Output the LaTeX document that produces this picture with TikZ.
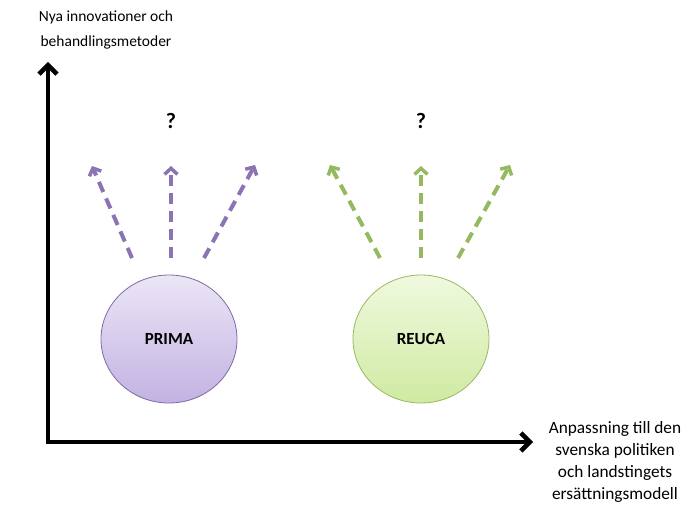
\documentclass[tikz,border=0pt]{standalone}
\usepackage{fontspec}
\setmainfont{Carlito}
\usetikzlibrary{arrows.meta,shapes.geometric}
\definecolor{purpA}{HTML}{8B74B3}
\definecolor{purpTop}{HTML}{ECE6F6}
\definecolor{purpBot}{HTML}{C2B2E2}
\definecolor{purpLine}{HTML}{7F68A6}
\definecolor{grnA}{HTML}{95B960}
\definecolor{grnTop}{HTML}{F0F9DF}
\definecolor{grnBot}{HTML}{CFEAA2}
\definecolor{grnLine}{HTML}{98B860}
\tikzset{
  axis/.style={line width=4.5pt, -{Straight Barb[length=9pt,width=18pt,line width=4.5pt]}},
  darrow/.style={line width=4pt, dash pattern=on 11pt off 7pt, -{Straight Barb[length=6pt,width=13pt,line width=3.5pt]}},
  blob/.style={ellipse, minimum width=136pt, minimum height=128pt, line width=0.8pt, font=\bfseries\fontsize{17}{19}\selectfont},
  lbl/.style={font=\fontsize{15.5}{25}\selectfont, align=center},
  xlbl/.style={font=\fontsize{17.3}{22}\selectfont, align=center, inner sep=1pt},
  qm/.style={font=\bfseries\fontsize{22}{24}\selectfont}
}
\begin{document}
\begin{tikzpicture}[x=1pt,y=-1pt]
\useasboundingbox (0,0) rectangle (693,508);
\coordinate (Ytop) at (48,62);
\coordinate (Xend) at (533,442);
\draw[axis] (48,444.2) -- (Ytop);
\draw[axis] (45.8,442) -- (Xend);
\node[lbl, anchor=north] (ylab) at (106,7) {Nya innovationer och\\behandlingsmetoder};
\node[xlbl, anchor=north] (xlab) at (615,420) {Anpassning till den\\svenska politiken\\och landstingets\\ersättningsmodell};

\node[blob, draw=purpLine, top color=purpTop, bottom color=purpBot] (prima) at (169,339) {PRIMA};
\node[blob, draw=grnLine, top color=grnTop, bottom color=grnBot] (reuca) at (421,339) {REUCA};

\coordinate (p1s) at (132,258); \coordinate (p1e) at (92,166);
\coordinate (p2s) at (171,258); \coordinate (p2e) at (171,166);
\coordinate (p3s) at (204,258); \coordinate (p3e) at (255,165);
\draw[darrow, purpA] (p1s) -- (p1e);
\draw[darrow, purpA] (p2s) -- (p2e);
\draw[darrow, purpA] (p3s) -- (p3e);

\coordinate (g1s) at (380,258); \coordinate (g1e) at (330,165);
\coordinate (g2s) at (421,258); \coordinate (g2e) at (421,166);
\coordinate (g3s) at (458,258); \coordinate (g3e) at (510,165);
\draw[darrow, grnA] (g1s) -- (g1e);
\draw[darrow, grnA] (g2s) -- (g2e);
\draw[darrow, grnA] (g3s) -- (g3e);

\node[qm] (q1) at (171,121) {?};
\node[qm] (q2) at (421,121) {?};
\end{tikzpicture}
\end{document}
